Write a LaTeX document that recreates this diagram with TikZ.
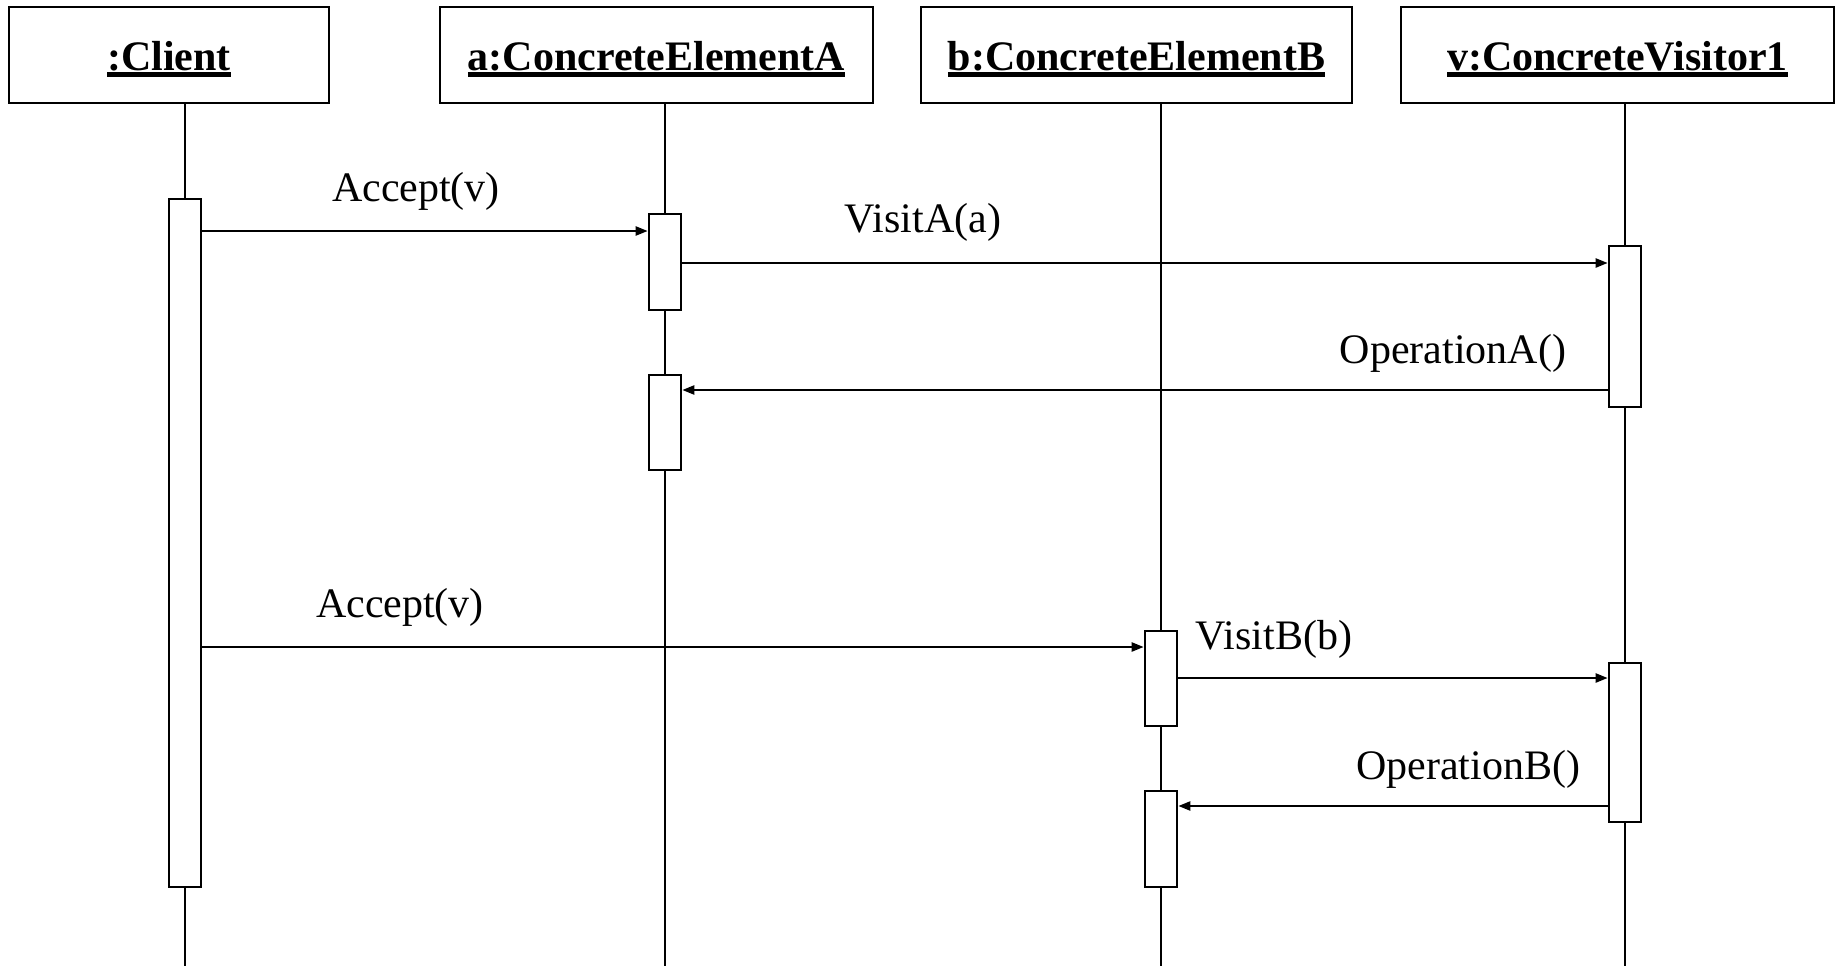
\documentclass[tikz,border=0pt]{standalone}
\usepackage{fontspec}
\setmainfont{Liberation Serif}
\usetikzlibrary{arrows.meta}
\newcommand\hdrul[1]{\setbox0\hbox{#1}\rlap{\vrule width\wd0 height -1.5pt depth 6.5pt}\box0}
\begin{document}
\begin{tikzpicture}[x=1pt,y=-1pt,
  hdr/.style={draw,line width=2.6pt,minimum width=#1,minimum height=96pt,inner sep=0pt},
  hdrtext/.style={anchor=base,inner sep=0pt,font=\fontsize{42}{50}\selectfont\bfseries},
  life/.style={line width=2pt},
  act/.style={draw,fill=white,line width=2.6pt,minimum width=32pt,inner sep=0pt},
  msg/.style={line width=2.2pt,-{Triangle[length=12pt,width=9pt]}},
  lbl/.style={anchor=base,inner sep=0pt,font=\fontsize{42}{50}\selectfont}]
\useasboundingbox (0,0) rectangle (1837,966);
% headers
\node[hdr=320pt] (client) at (169,55) {};
\node[hdr=433pt] (ea) at (656.5,55) {};
\node[hdr=431pt] (eb) at (1136.5,55) {};
\node[hdr=433pt] (cv) at (1617.5,55) {};
\node[hdrtext] (clientT) at (169,70.5) {\hdrul{:Client}};
\node[hdrtext] (eaT) at (656.5,70.5) {\hdrul{a:ConcreteElementA}};
\node[hdrtext] (ebT) at (1136.5,70.5) {\hdrul{b:ConcreteElementB}};
\node[hdrtext] (cvT) at (1617.5,70.5) {\hdrul{v:ConcreteVisitor1}};
% lifelines
\coordinate (lc) at (185,966);
\coordinate (la) at (665,966);
\coordinate (lb) at (1161,966);
\coordinate (lv) at (1625,966);
\draw[life] (lc |- client.south) -- (lc);
\draw[life] (la |- ea.south) -- (la);
\draw[life] (lb |- eb.south) -- (lb);
\draw[life] (lv |- cv.south) -- (lv);
% activations
\node[act,minimum height=688pt] (actC) at (185,543) {};
\node[act,minimum height=96pt] (actA1) at (665,262) {};
\node[act,minimum height=95pt] (actA2) at (665,422.5) {};
\node[act,minimum height=161pt] (actV1) at (1625,326.5) {};
\node[act,minimum height=159pt] (actV2) at (1625,742.5) {};
\node[act,minimum height=95pt] (actB1) at (1161,678.5) {};
\node[act,minimum height=96pt] (actB2) at (1161,839) {};
% message rows
\coordinate (m1) at (0,231);
\coordinate (m2) at (0,263);
\coordinate (m3) at (0,390);
\coordinate (m4) at (0,647);
\coordinate (m5) at (0,678);
\coordinate (m6) at (0,806);
\draw[msg] (actC.east |- m1) -- (actA1.west |- m1);
\draw[msg] (actA1.east |- m2) -- (actV1.west |- m2);
\draw[msg] (actV1.west |- m3) -- (actA2.east |- m3);
\draw[msg] (actC.east |- m4) -- (actB1.west |- m4);
\draw[msg] (actB1.east |- m5) -- (actV2.west |- m5);
\draw[msg] (actV2.west |- m6) -- (actB2.east |- m6);
% labels
\node[lbl] (l1) at (416,201) {Accept(v)};
\node[lbl] (l2) at (923,232) {VisitA(a)};
\node[lbl] (l3) at (1453,363) {OperationA()};
\node[lbl] (l4) at (400,617) {Accept(v)};
\node[lbl] (l5) at (1274,649) {VisitB(b)};
\node[lbl] (l6) at (1468,779) {OperationB()};
\end{tikzpicture}
\end{document}
